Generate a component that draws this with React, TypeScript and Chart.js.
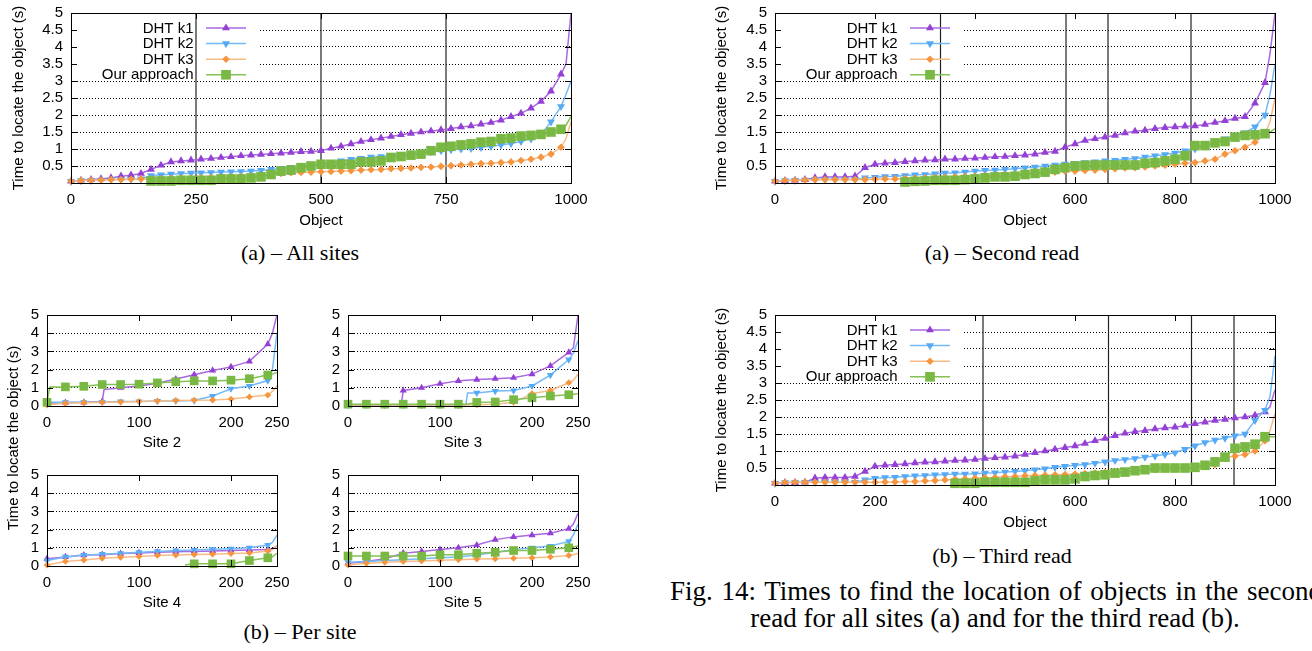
import React, { useEffect, useRef } from "react";
import { Chart, registerables } from "chart.js";
Chart.register(...registerables);

const SANS = "'Liberation Sans', Arial, Helvetica, sans-serif";
const SERIF = "'Liberation Serif', 'Times New Roman', Times, serif";

const SERIES_LABELS = ["DHT k1", "DHT k2", "DHT k3", "Our approach"];
const MARK_COLORS = ["#9440d5", "#56a9f5", "#f5953f", "#78b843"];
const LINE_COLORS = ["#a868e0", "#74baf8", "#f8bb86", "#84c254"];

// ---- x tick labels ----
const X_TICKS_A = [0, 250, 500, 750, 1000];
const X_TICKS_READ = [0, 200, 400, 600, 800, 1000];
const X_TICKS_SITE = [0, 100, 200, 250];
const Y_TICKS_BIG = [0.5, 1, 1.5, 2, 2.5, 3, 3.5, 4, 4.5, 5];
const Y_TICKS_SITE = [0, 1, 2, 3, 4, 5];

// ---- objects (x) ----
const X_BIG = [0, 20, 40, 60, 80, 100, 120, 140, 160, 180, 200, 220, 240, 260, 280, 300, 320, 340, 360, 380, 400, 420, 440, 460, 480, 500, 520, 540, 560, 580, 600, 620, 640, 660, 680, 700, 720, 740, 760, 780, 800, 820, 840, 860, 880, 900, 920, 940, 960, 980, 990, 1000];

// ---- (a) All sites ----
const A_K1 = [0.05, 0.08, 0.1, 0.12, 0.15, 0.2, 0.23, 0.28, 0.4, 0.52, 0.62, 0.65, 0.67, 0.7, 0.72, 0.75, 0.77, 0.8, 0.82, 0.84, 0.86, 0.88, 0.9, 0.92, 0.93, 0.95, 1.02, 1.08, 1.15, 1.22, 1.27, 1.32, 1.37, 1.42, 1.46, 1.5, 1.53, 1.56, 1.6, 1.65, 1.68, 1.73, 1.78, 1.85, 1.95, 2.05, 2.2, 2.4, 2.7, 3.2, 3.5, 5.0];
const A_K2 = [0.05, 0.07, 0.08, 0.09, 0.1, 0.1, 0.11, 0.12, 0.22, 0.24, 0.26, 0.28, 0.29, 0.3, 0.31, 0.32, 0.33, 0.34, 0.35, 0.37, 0.4, 0.43, 0.46, 0.5, 0.53, 0.56, 0.6, 0.65, 0.7, 0.73, 0.76, 0.78, 0.8, 0.83, 0.86, 0.89, 0.92, 0.95, 0.98, 1.0, 1.02, 1.05, 1.08, 1.12, 1.16, 1.22, 1.3, 1.42, 1.8, 2.25, 2.6, 3.0];
const A_K3 = [0.05, 0.07, 0.08, 0.09, 0.1, 0.1, 0.11, 0.12, 0.12, 0.12, 0.13, 0.14, 0.14, 0.15, 0.16, 0.17, 0.18, 0.19, 0.2, 0.22, 0.25, 0.28, 0.3, 0.31, 0.32, 0.33, 0.34, 0.35, 0.36, 0.38, 0.39, 0.4, 0.42, 0.43, 0.44, 0.46, 0.47, 0.49, 0.51, 0.53, 0.55, 0.57, 0.58, 0.6, 0.62, 0.66, 0.7, 0.76, 0.85, 1.05, 1.3, 1.8];
const A_OUR = [null, null, null, null, null, null, null, null, 0.06, 0.06, 0.06, 0.08, 0.08, 0.08, 0.08, 0.12, 0.12, 0.12, 0.15, 0.18, 0.25, 0.35, 0.38, 0.45, 0.5, 0.55, 0.55, 0.55, 0.55, 0.62, 0.62, 0.65, 0.75, 0.78, 0.82, 0.85, 0.95, 1.05, 1.08, 1.12, 1.15, 1.2, 1.22, 1.3, 1.32, 1.38, 1.4, 1.43, 1.5, 1.58, 1.7, 1.95];
const VLINES_A = [250, 500, 750];

// ---- (a) Second read ----
const B_K1 = [0.05, 0.07, 0.08, 0.1, 0.15, 0.18, 0.18, 0.18, 0.2, 0.45, 0.55, 0.58, 0.6, 0.63, 0.65, 0.67, 0.68, 0.7, 0.7, 0.72, 0.73, 0.75, 0.77, 0.78, 0.8, 0.82, 0.85, 0.9, 0.93, 1.05, 1.15, 1.25, 1.3, 1.35, 1.4, 1.47, 1.52, 1.55, 1.6, 1.63, 1.65, 1.67, 1.68, 1.72, 1.78, 1.83, 1.9, 1.95, 2.35, 2.95, 3.8, 5.0];
const B_K2 = [0.05, 0.07, 0.08, 0.09, 0.1, 0.1, 0.1, 0.1, 0.1, 0.15, 0.17, 0.19, 0.2, 0.22, 0.24, 0.25, 0.27, 0.29, 0.3, 0.32, 0.35, 0.37, 0.38, 0.4, 0.42, 0.45, 0.47, 0.5, 0.53, 0.56, 0.58, 0.6, 0.62, 0.65, 0.67, 0.7, 0.72, 0.76, 0.8, 0.84, 0.88, 0.95, 1.0, 1.1, 1.2, 1.3, 1.4, 1.48, 1.65, 2.0, 2.6, 3.5];
const B_K3 = [0.05, 0.07, 0.08, 0.09, 0.1, 0.1, 0.1, 0.1, 0.1, 0.1, 0.11, 0.12, 0.12, 0.13, 0.14, 0.15, 0.16, 0.17, 0.18, 0.19, 0.2, 0.21, 0.22, 0.24, 0.25, 0.26, 0.28, 0.3, 0.32, 0.35, 0.35, 0.37, 0.38, 0.4, 0.42, 0.44, 0.45, 0.47, 0.5, 0.52, 0.55, 0.58, 0.6, 0.65, 0.7, 0.85, 0.95, 1.05, 1.2, 1.45, 1.8, 2.5];
const B_OUR = [null, null, null, null, null, null, null, null, null, null, null, null, null, 0.03, 0.05, 0.06, 0.08, 0.08, 0.08, 0.1, 0.12, 0.15, 0.18, 0.18, 0.2, 0.25, 0.28, 0.32, 0.4, 0.45, 0.5, 0.52, 0.53, 0.53, 0.53, 0.53, 0.53, 0.58, 0.6, 0.65, 0.7, 0.8, 1.1, 1.1, 1.18, 1.22, 1.35, 1.4, 1.42, 1.45, 1.5, 1.6];
const VLINES_B = [331, 582, 666, 832];

// ---- (b) Third read ----
const C_K1 = [0.05, 0.07, 0.07, 0.08, 0.2, 0.22, 0.22, 0.22, 0.25, 0.4, 0.55, 0.58, 0.6, 0.62, 0.65, 0.67, 0.68, 0.7, 0.72, 0.73, 0.75, 0.78, 0.8, 0.82, 0.85, 0.9, 0.95, 1.0, 1.05, 1.1, 1.15, 1.22, 1.3, 1.37, 1.45, 1.52, 1.57, 1.6, 1.65, 1.68, 1.7, 1.75, 1.8, 1.85, 1.9, 1.93, 1.97, 2.0, 2.05, 2.15, 2.3, 2.8];
const C_K2 = [0.05, 0.07, 0.08, 0.08, 0.08, 0.08, 0.08, 0.08, 0.08, 0.15, 0.2, 0.22, 0.23, 0.25, 0.27, 0.28, 0.3, 0.31, 0.32, 0.32, 0.33, 0.35, 0.36, 0.38, 0.4, 0.42, 0.45, 0.48, 0.52, 0.55, 0.58, 0.6, 0.64, 0.68, 0.72, 0.75, 0.78, 0.82, 0.85, 0.9, 0.95, 1.05, 1.15, 1.25, 1.32, 1.38, 1.45, 1.5, 1.9, 2.2, 2.6, 3.8];
const C_K3 = [0.05, 0.07, 0.08, 0.08, 0.08, 0.08, 0.08, 0.08, 0.08, 0.08, 0.08, 0.09, 0.09, 0.1, 0.1, 0.12, 0.13, 0.15, 0.17, 0.18, 0.2, 0.21, 0.22, 0.24, 0.25, 0.27, 0.28, 0.29, 0.3, 0.31, 0.32, 0.34, 0.35, 0.37, 0.38, 0.4, 0.42, 0.43, 0.45, 0.47, 0.48, 0.5, 0.52, 0.56, 0.6, 0.8, 0.85, 0.9, 1.0, 1.3, 1.6, 2.1];
const C_OUR = [null, null, null, null, null, null, null, null, null, null, null, null, null, null, null, null, null, null, 0.05, 0.05, 0.05, 0.08, 0.08, 0.08, 0.08, 0.08, 0.12, 0.15, 0.15, 0.15, 0.18, 0.25, 0.28, 0.3, 0.35, 0.38, 0.42, 0.45, 0.5, 0.5, 0.5, 0.5, 0.52, 0.58, 0.68, 0.82, 1.08, 1.12, 1.2, 1.42, 1.42, 1.42];
const VLINES_C = [416, 667, 833, 918];

// ---- (b) Per site ----
const X_S2 = [0, 3, 20, 40, 60, 62, 80, 100, 120, 140, 160, 180, 200, 220, 240, 245, 250];
const S2_K1 = [0.15, 0.15, 0.18, 0.2, 0.25, 0.9, 1.0, 1.1, 1.25, 1.48, 1.72, 1.95, 2.15, 2.45, 3.4, 4.0, 5.0];
const S2_K2 = [0.2, 0.2, 0.2, 0.2, 0.22, 0.22, 0.25, 0.25, 0.27, 0.28, 0.3, 0.55, 0.95, 1.1, 1.4, 2.0, 4.0];
const S2_K3 = [0.05, 0.08, 0.15, 0.18, 0.2, 0.2, 0.22, 0.25, 0.28, 0.3, 0.32, 0.33, 0.38, 0.5, 0.6, 0.8, 1.1];
const S2_OUR = [0.2, 1.05, 1.05, 1.08, 1.18, 1.18, 1.18, 1.2, 1.27, 1.33, 1.38, 1.38, 1.42, 1.5, 1.7, 1.75, 1.85];

const X_S3 = [0, 20, 40, 58, 60, 80, 100, 120, 128, 130, 140, 160, 180, 200, 220, 240, 245, 250];
const S3_K1 = [0.05, 0.05, 0.05, 0.08, 0.85, 1.0, 1.22, 1.38, 1.42, 1.42, 1.45, 1.5, 1.55, 1.75, 2.2, 2.95, 3.2, 5.0];
const S3_K2 = [0.05, 0.05, 0.05, 0.05, 0.05, 0.05, 0.05, 0.05, 0.06, 0.72, 0.72, 0.82, 0.85, 1.1, 1.7, 2.55, 2.9, 3.6];
const S3_K3 = [0.05, 0.05, 0.05, 0.05, 0.05, 0.05, 0.05, 0.05, 0.05, 0.05, 0.07, 0.1, 0.2, 0.68, 0.85, 1.28, 1.4, 1.75];
const S3_OUR = [0.1, 0.1, 0.1, 0.1, 0.1, 0.1, 0.1, 0.1, 0.1, 0.1, 0.2, 0.22, 0.35, 0.45, 0.55, 0.62, 0.65, 0.68];

const X_S4 = [0, 20, 40, 60, 80, 100, 120, 140, 150, 160, 180, 200, 220, 240, 245, 250];
const S4_K1 = [0.4, 0.5, 0.6, 0.62, 0.68, 0.72, 0.75, 0.78, 0.79, 0.8, 0.82, 0.85, 0.88, 0.9, 0.95, 1.1];
const S4_K2 = [0.3, 0.5, 0.6, 0.65, 0.7, 0.75, 0.8, 0.85, 0.86, 0.88, 0.92, 0.95, 1.0, 1.15, 1.3, 1.7];
const S4_K3 = [0.05, 0.25, 0.33, 0.42, 0.48, 0.52, 0.58, 0.6, 0.62, 0.63, 0.65, 0.68, 0.72, 0.82, 0.9, 1.1];
const S4_OUR = [null, null, null, null, null, null, null, null, 0.05, 0.12, 0.12, 0.12, 0.3, 0.45, 0.5, 0.7];

const X_S5 = [0, 20, 40, 60, 80, 100, 120, 140, 160, 180, 200, 220, 240, 245, 250];
const S5_K1 = [0.15, 0.25, 0.4, 0.7, 0.8, 0.9, 1.0, 1.15, 1.45, 1.6, 1.7, 1.8, 2.05, 2.3, 2.9];
const S5_K2 = [0.2, 0.25, 0.3, 0.35, 0.4, 0.45, 0.5, 0.6, 0.75, 0.9, 1.0, 1.1, 1.35, 1.7, 2.3];
const S5_K3 = [0.05, 0.15, 0.2, 0.25, 0.28, 0.32, 0.35, 0.38, 0.4, 0.42, 0.45, 0.5, 0.58, 0.62, 0.7];
const S5_OUR = [0.55, 0.55, 0.55, 0.55, 0.55, 0.62, 0.62, 0.7, 0.75, 0.85, 0.85, 0.92, 1.0, 1.05, 1.1];

const MARKERS = [
  { style: "triangle", rot: 0, r: 4.6 },
  { style: "triangle", rot: 180, r: 4.6 },
  { style: "rectRot", rot: 0, r: 3.8 },
  { style: "rect", rot: 0, r: 6.8 },
];

function drawMarker(ctx: CanvasRenderingContext2D, style: string, rot: number, x: number, y: number, r: number) {
  ctx.beginPath();
  if (style === "triangle") {
    let a = (rot * Math.PI) / 180;
    for (let k = 0; k < 3; k++) {
      const px = x + Math.sin(a) * r;
      const py = y - Math.cos(a) * r;
      if (k === 0) ctx.moveTo(px, py);
      else ctx.lineTo(px, py);
      a += (2 * Math.PI) / 3;
    }
    ctx.closePath();
  } else if (style === "rectRot") {
    ctx.moveTo(x, y - r);
    ctx.lineTo(x + r, y);
    ctx.lineTo(x, y + r);
    ctx.lineTo(x - r, y);
    ctx.closePath();
  } else {
    const s = r * Math.SQRT1_2;
    ctx.rect(x - s, y - s, 2 * s, 2 * s);
  }
  ctx.fill();
}

const framePlugin = {
  id: "gpFrame",
  afterDatasetsDraw(chart: any) {
    const { ctx, chartArea: a, scales } = chart;
    const x = scales.x;
    const y = scales.y;
    ctx.save();
    ctx.strokeStyle = "#000";
    ctx.lineWidth = 1;
    ctx.strokeRect(Math.round(a.left) + 0.5, Math.round(a.top) + 0.5, Math.round(a.right - a.left), Math.round(a.bottom - a.top));
    ctx.beginPath();
    x.ticks.forEach((t: any) => {
      const px = Math.round(x.getPixelForValue(t.value)) + 0.5;
      ctx.moveTo(px, a.bottom);
      ctx.lineTo(px, a.bottom - 6);
      ctx.moveTo(px, a.top);
      ctx.lineTo(px, a.top + 6);
    });
    y.ticks.forEach((t: any) => {
      const py = Math.round(y.getPixelForValue(t.value)) + 0.5;
      ctx.moveTo(a.left, py);
      ctx.lineTo(a.left + 6, py);
      ctx.moveTo(a.right, py);
      ctx.lineTo(a.right - 6, py);
    });
    ctx.stroke();
    ctx.restore();
  },
};

const legendPlugin = {
  id: "gpLegend",
  beforeDatasetsDraw(chart: any) {
    const { ctx, chartArea: a } = chart;
    const w = a.right - a.left;
    ctx.save();
    ctx.fillStyle = "#fff";
    ctx.fillRect(a.left + 1, a.top + 1, w * 0.372, 67);
    ctx.restore();
  },
  afterDatasetsDraw(chart: any) {
    const { ctx, chartArea: a } = chart;
    const w = a.right - a.left;
    ctx.save();
    ctx.font = `15px ${SANS}`;
    ctx.textAlign = "right";
    ctx.textBaseline = "middle";
    SERIES_LABELS.forEach((lab, i) => {
      const yy = a.top + 15 + i * 15.6;
      ctx.fillStyle = "#000";
      ctx.fillText(lab, a.left + w * 0.245, yy + 0.5);
      ctx.strokeStyle = LINE_COLORS[i];
      ctx.lineWidth = 1.5;
      ctx.beginPath();
      ctx.moveTo(a.left + w * 0.27, yy);
      ctx.lineTo(a.left + w * 0.35, yy);
      ctx.stroke();
      ctx.fillStyle = MARK_COLORS[i];
      const m = MARKERS[i];
      drawMarker(ctx, m.style, m.rot, a.left + w * 0.31, yy, m.r);
    });
    ctx.restore();
  },
};

type Panel = {
  x: number[];
  series: (number | null)[][];
  vlines: number[];
  xTicks: number[];
  yTicks: number[];
  xMax: number;
  plotLeft: number;
  plotTop: number;
  plotW: number;
  plotH: number;
  yAxisW: number;
  xAxisH: number;
  yTitle: boolean;
  yTitlePad: number;
  xTitle: string;
  legend: boolean;
  lastMark: number;
  markScale: number;
};

const PT = 12;
const PR = 25;

function buildConfig(p: Panel): any {
  const font = { family: SANS, size: 15 };
  const datasets: any[] = [];
  p.vlines.forEach((v) => {
    datasets.push({
      data: [
        { x: v, y: 0 },
        { x: v, y: 5 },
      ],
      borderColor: "#222",
      borderWidth: 1.2,
      pointRadius: 0,
      pointHoverRadius: 0,
      order: 10,
      clip: false,
    });
  });
  p.series.forEach((ys, i) => {
    const m = MARKERS[i];
    const r = m.r * p.markScale;
    datasets.push({
      label: SERIES_LABELS[i],
      data: p.x.map((x, k) => ({ x, y: ys[k] })),
      borderColor: LINE_COLORS[i],
      backgroundColor: MARK_COLORS[i],
      pointBackgroundColor: MARK_COLORS[i],
      pointBorderColor: MARK_COLORS[i],
      pointBorderWidth: 0,
      borderWidth: 1.5,
      pointStyle: m.style,
      pointRotation: m.rot,
      pointRadius: p.x.map((x) => (x % 20 === 0 && x <= p.lastMark ? r : 0)),
      pointHoverRadius: 0,
      order: 4 - i,
      clip: false,
      spanGaps: false,
      tension: 0,
    });
  });
  return {
    type: "line",
    data: { datasets },
    options: {
      animation: false,
      responsive: false,
      events: [],
      layout: { padding: { top: PT, right: PR, left: 0, bottom: 0 } },
      plugins: { legend: { display: false }, tooltip: { enabled: false } },
      scales: {
        x: {
          type: "linear",
          min: 0,
          max: p.xMax,
          afterBuildTicks: (ax: any) => {
            ax.ticks = p.xTicks.map((v) => ({ value: v }));
          },
          afterFit: (s: any) => {
            s.height = p.xAxisH;
          },
          grid: { display: false, drawTicks: false },
          border: { display: false },
          ticks: { padding: 8, font, color: "#000", maxRotation: 0, autoSkip: false, callback: (v: any) => String(v) },
          title: { display: true, text: p.xTitle, font, color: "#000", padding: { top: 0, bottom: 0 } },
        },
        y: {
          type: "linear",
          min: 0,
          max: 5,
          afterBuildTicks: (ax: any) => {
            ax.ticks = p.yTicks.map((v) => ({ value: v }));
          },
          afterFit: (s: any) => {
            s.width = p.yAxisW;
          },
          grid: { color: "#000", lineWidth: 1, drawTicks: false },
          border: { display: false, dash: [1, 2] },
          ticks: { padding: 8, font, color: "#000", autoSkip: false, callback: (v: any) => String(v) },
          title: {
            display: p.yTitle,
            text: "Time to locate the object (s)",
            font,
            color: "#000",
            padding: { top: p.yTitlePad, bottom: 0 },
          },
        },
      },
    },
    plugins: p.legend ? [framePlugin, legendPlugin] : [framePlugin],
  };
}

function ChartPanel({ p }: { p: Panel }) {
  const ref = useRef<HTMLCanvasElement | null>(null);
  const left = p.plotLeft - p.yAxisW;
  const top = p.plotTop - PT;
  const width = p.yAxisW + p.plotW + PR;
  const height = PT + p.plotH + p.xAxisH;
  useEffect(() => {
    if (!ref.current) return;
    const chart = new Chart(ref.current, buildConfig(p));
    return () => chart.destroy();
  }, []);
  return (
    <canvas
      ref={ref}
      width={width}
      height={height}
      style={{ position: "absolute", left, top, width, height }}
    />
  );
}

const big = (x: Partial<Panel>): Panel => ({
  x: X_BIG,
  series: [],
  vlines: [],
  xTicks: X_TICKS_READ,
  yTicks: Y_TICKS_BIG,
  xMax: 1000,
  plotLeft: 775,
  plotTop: 8,
  plotW: 500,
  plotH: 175,
  yAxisW: 75,
  xAxisH: 47,
  yTitle: true,
  yTitlePad: 13,
  xTitle: "Object",
  legend: true,
  lastMark: 980,
  markScale: 1,
  ...x,
});

const site = (x: Partial<Panel>): Panel => ({
  x: [],
  series: [],
  vlines: [],
  xTicks: X_TICKS_SITE,
  yTicks: Y_TICKS_SITE,
  xMax: 250,
  plotLeft: 47,
  plotTop: 310,
  plotW: 230,
  plotH: 96,
  yAxisW: 47,
  xAxisH: 46,
  yTitle: false,
  yTitlePad: 0,
  xTitle: "",
  legend: false,
  lastMark: 240,
  markScale: 0.9,
  ...x,
});

const PANELS: Panel[] = [
  big({ series: [A_K1, A_K2, A_K3, A_OUR], vlines: VLINES_A, xTicks: X_TICKS_A, plotLeft: 71, plotTop: 8, yAxisW: 71, yTitlePad: 10 }),
  big({ series: [B_K1, B_K2, B_K3, B_OUR], vlines: VLINES_B, plotLeft: 775, plotTop: 8 }),
  big({ series: [C_K1, C_K2, C_K3, C_OUR], vlines: VLINES_C, plotLeft: 775, plotTop: 310 }),
  site({ x: X_S2, series: [S2_K1, S2_K2, S2_K3, S2_OUR], xTitle: "Site 2", plotLeft: 47, plotTop: 310 }),
  site({ x: X_S3, series: [S3_K1, S3_K2, S3_K3, S3_OUR], xTitle: "Site 3", plotLeft: 348, plotTop: 310 }),
  site({ x: X_S4, series: [S4_K1, S4_K2, S4_K3, S4_OUR], xTitle: "Site 4", plotLeft: 47, plotTop: 470 }),
  site({ x: X_S5, series: [S5_K1, S5_K2, S5_K3, S5_OUR], xTitle: "Site 5", plotLeft: 348, plotTop: 470 }),
];

function Cap({ cx, cy, fs, text }: { cx: number; cy: number; fs: number; text: string }) {
  return (
    <div
      style={{
        position: "absolute",
        left: cx - 300,
        width: 600,
        top: cy - fs / 2,
        height: fs,
        lineHeight: `${fs}px`,
        fontSize: fs,
        fontFamily: SERIF,
        textAlign: "center",
        whiteSpace: "nowrap",
        color: "#000",
      }}
    >
      {text}
    </div>
  );
}

export default function App() {
  return (
    <div
      style={{
        position: "absolute",
        left: 0,
        top: 0,
        width: 1312,
        height: 651,
        overflow: "hidden",
        background: "#fff",
      }}
    >
      {PANELS.map((p, i) => (
        <ChartPanel key={i} p={p} />
      ))}
      <div
        style={{
          position: "absolute",
          left: 13 - 120,
          top: 438 - 9,
          width: 240,
          height: 18,
          lineHeight: "18px",
          textAlign: "center",
          transform: "rotate(-90deg)",
          fontFamily: SANS,
          fontSize: 15,
          color: "#000",
          whiteSpace: "nowrap",
        }}
      >
        Time to locate the object (s)
      </div>
      <Cap cx={300} cy={253} fs={22} text="(a) – All sites" />
      <Cap cx={300} cy={632} fs={22} text="(b) – Per site" />
      <Cap cx={1002} cy={253} fs={22} text="(a) – Second read" />
      <Cap cx={1002} cy={556} fs={22} text="(b) – Third read" />
      <div
        style={{
          position: "absolute",
          left: 670,
          top: 591 - 13.5,
          height: 27,
          lineHeight: "27px",
          fontSize: 27,
          wordSpacing: 2,
          fontFamily: SERIF,
          whiteSpace: "nowrap",
          color: "#000",
        }}
      >
        Fig. 14: Times to find the location of objects in the second
      </div>
      <Cap cx={995} cy={618} fs={27} text="read for all sites (a) and for the third read (b)." />
    </div>
  );
}
